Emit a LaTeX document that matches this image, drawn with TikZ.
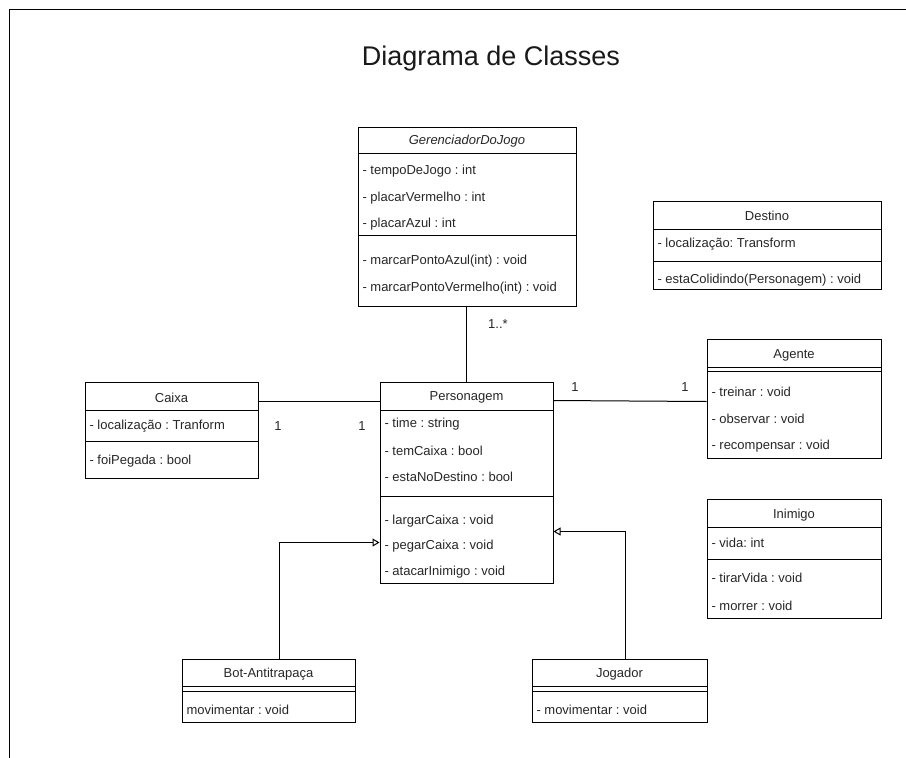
\documentclass[tikz,border=0pt]{standalone}
\usepackage{fontspec}
\setmainfont{Liberation Sans}
\usetikzlibrary{arrows.meta}
\AtBeginDocument{\frenchspacing}

\tikzset{
  cls/.style={draw=black, line width=1pt, inner sep=0pt},
  hd/.style={inner sep=0pt, text=black!85, font=\fontsize{13}{15}\selectfont},
  mb/.style={anchor=west, inner sep=0pt, text=black!85, font=\fontsize{13}{15}\selectfont},
  inh/.style={-{Triangle[open, length=7pt, width=8pt]}}
}

\begin{document}
\begin{tikzpicture}[x=1pt,y=-1pt, line width=1pt]
\useasboundingbox (0,0) rectangle (906,758);
\draw[line width=1.5pt] (9.5,758) -- (9.5,9.5) -- (906,9.5);
\node[inner sep=0pt, text=black!90, font=\fontsize{27}{30}\selectfont] (title) at (491,59) {Diagrama de Classes};

% GerenciadorDoJogo
\node[cls, minimum width=218pt, minimum height=179pt] (ger) at (467,216.5) {};
\draw (358,153) -- (576,153);
\draw (358,235) -- (576,235);
\node[hd, font=\fontsize{13}{15}\selectfont\itshape] (gerT) at (467,141) {GerenciadorDoJogo};
\node[mb] (ger1) at (362,171) {- tempoDeJogo : int};
\node[mb] (ger2) at (362,198) {- placarVermelho : int};
\node[mb] (ger3) at (362,224) {- placarAzul : int};
\node[mb] (ger4) at (362,261) {- marcarPontoAzul(int) : void};
\node[mb] (ger5) at (362,288) {- marcarPontoVermelho(int) : void};

% Destino
\node[cls, minimum width=228pt, minimum height=88pt] (dest) at (767,245) {};
\draw (653,229) -- (881,229);
\draw (653,261) -- (881,261);
\node[hd] (destT) at (767,216) {Destino};
\node[mb] (dest1) at (657,244) {- localização: Transform};
\node[mb] (dest2) at (657,280) {- estaColidindo(Personagem) : void};

% Caixa
\node[cls, minimum width=173pt, minimum height=96pt] (caixa) at (171.5,430) {};
\draw (85,410) -- (258,410);
\draw (85,441) -- (258,441);
\node[hd] (caixaT) at (171.5,398) {Caixa};
\node[mb] (caixa1) at (89,426) {- localização : Tranform};
\node[mb] (caixa2) at (89,461) {- foiPegada : bool};

% Personagem
\node[cls, minimum width=173pt, minimum height=201pt] (pers) at (466.5,482.5) {};
\draw (380,410) -- (553,410);
\draw (380,496) -- (553,496);
\node[hd] (persT) at (466.5,397) {Personagem};
\node[mb] (pers1) at (384,424) {- time : string};
\node[mb] (pers2) at (384,451) {- temCaixa : bool};
\node[mb] (pers3) at (384,477) {- estaNoDestino : bool};
\node[mb] (pers4) at (384,521) {- largarCaixa : void};
\node[mb] (pers5) at (384,546) {- pegarCaixa : void};
\node[mb] (pers6) at (384,572) {- atacarInimigo : void};

% Agente
\node[cls, minimum width=174pt, minimum height=119pt] (agente) at (794,398.5) {};
\draw (707,367) -- (881,367);
\draw (707,371) -- (881,371);
\node[hd] (agenteT) at (794,355) {Agente};
\node[mb] (agente1) at (711,392) {- treinar : void};
\node[mb] (agente2) at (711,419) {- observar : void};
\node[mb] (agente3) at (711,446) {- recompensar : void};

% Inimigo
\node[cls, minimum width=174pt, minimum height=119pt] (inim) at (794,558.5) {};
\draw (707,527) -- (881,527);
\draw (707,559) -- (881,559);
\node[hd] (inimT) at (794,515) {Inimigo};
\node[mb] (inim1) at (711,543) {- vida: int};
\node[mb] (inim2) at (711,578) {- tirarVida : void};
\node[mb] (inim3) at (711,606) {- morrer : void};

% Bot-Antitrapaça
\node[cls, minimum width=173pt, minimum height=63pt] (bot) at (268.5,690.5) {};
\draw (182,686) -- (355,686);
\draw (182,691) -- (355,691);
\node[hd] (botT) at (268.5,674) {Bot-Antitrapaça};
\node[mb] (bot1) at (186,710) {movimentar : void};

% Jogador
\node[cls, minimum width=175pt, minimum height=63pt] (jog) at (619.5,690.5) {};
\draw (532,686) -- (707,686);
\draw (532,691) -- (707,691);
\node[hd] (jogT) at (619.5,674) {Jogador};
\node[mb] (jog1) at (536,710) {- movimentar : void};

% ligacoes
\draw (pers.north) -- (pers.north |- ger.south);
\draw ([yshift=-20pt]caixa.north east) -- ([yshift=-20pt]pers.north west);
\draw ([yshift=-19pt]pers.north east) -- ([yshift=-63pt]agente.north west);
\draw[inh] ([xshift=10.5pt]bot.north) |- ([yshift=-161pt]pers.north west);
\draw[inh] ([xshift=5.5pt]jog.north) |- ([yshift=-150pt]pers.north east);

\node[hd] (m1) at (498,324) {1..*};
\node[hd] (m2) at (278,426) {1};
\node[hd] (m3) at (362,426) {1};
\node[hd] (m4) at (575,387) {1};
\node[hd] (m5) at (685,387) {1};
\end{tikzpicture}
\end{document}
